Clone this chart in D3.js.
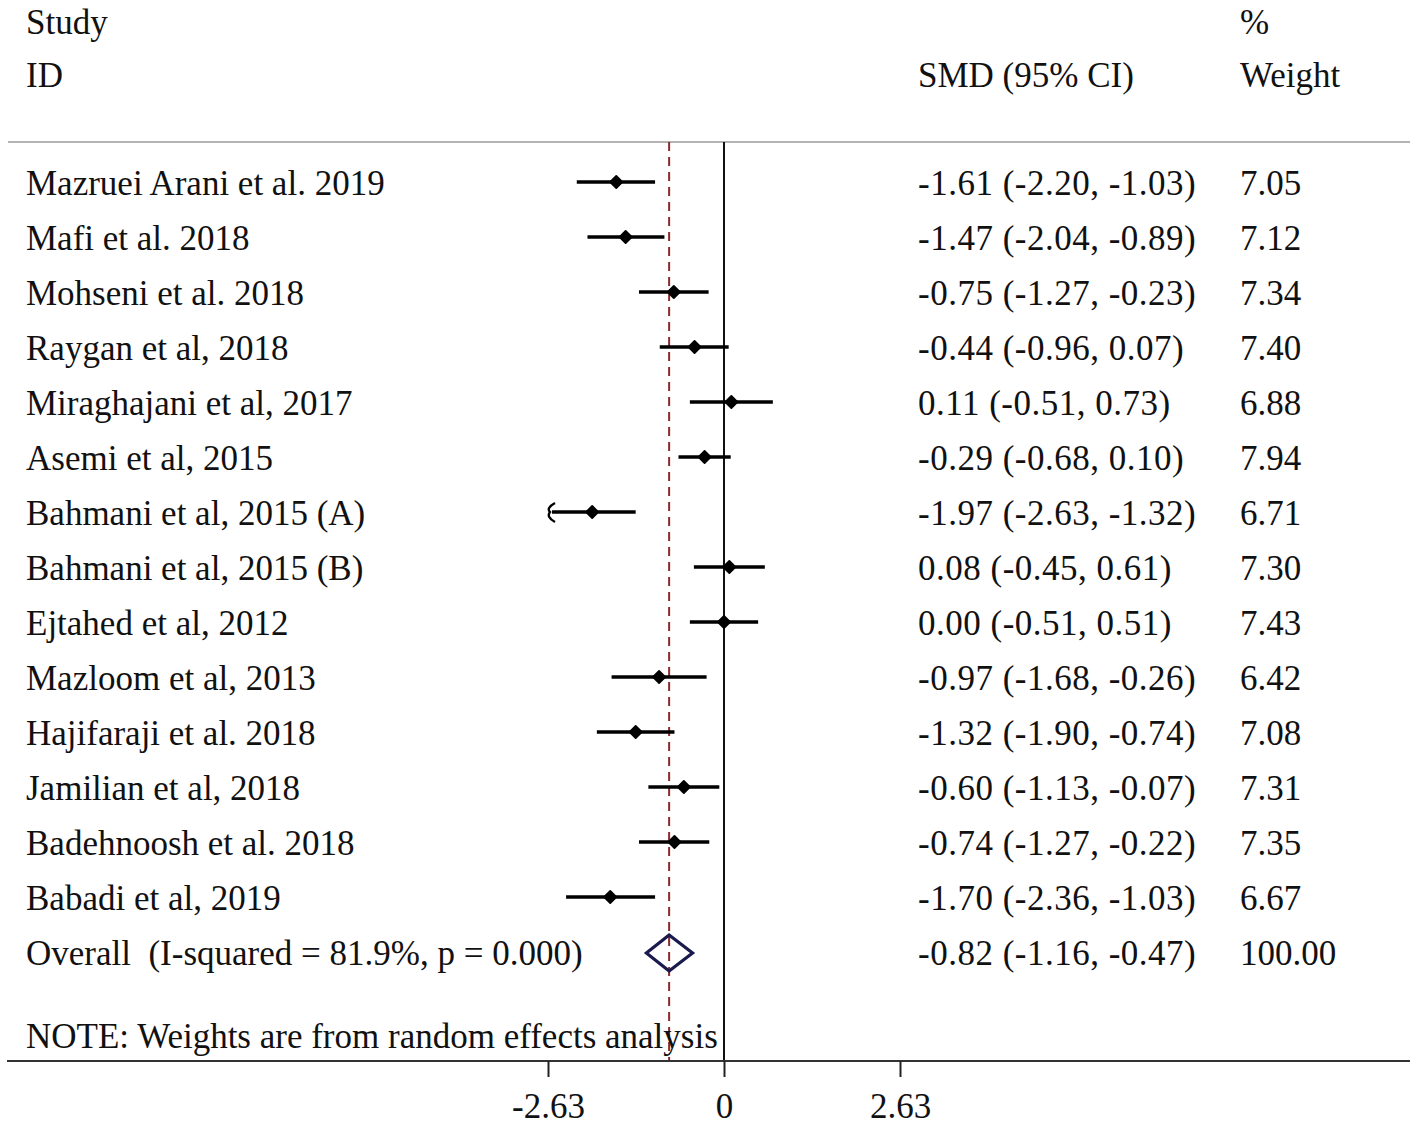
<!DOCTYPE html>
<html><head><meta charset="utf-8">
<script src="https://cdn.jsdelivr.net/npm/d3@7"></script>
<style>html,body{margin:0;padding:0;background:#fff;}svg{display:block;}</style>
</head><body>
<svg id="c" width="1418" height="1125"></svg>
<script>
const studies = ["Mazruei Arani et al. 2019","Mafi et al. 2018","Mohseni et al. 2018","Raygan et al, 2018","Miraghajani et al, 2017","Asemi et al, 2015","Bahmani et al, 2015 (A)","Bahmani et al, 2015 (B)","Ejtahed et al, 2012","Mazloom et al, 2013","Hajifaraji et al. 2018","Jamilian et al, 2018","Badehnoosh et al. 2018","Babadi et al, 2019"];
const smd   = [-1.61,-1.47,-0.75,-0.44,0.11,-0.29,-1.97,0.08,0.00,-0.97,-1.32,-0.60,-0.74,-1.70];
const lower = [-2.20,-2.04,-1.27,-0.96,-0.51,-0.68,-2.63,-0.45,-0.51,-1.68,-1.90,-1.13,-1.27,-2.36];
const upper = [-1.03,-0.89,-0.23,0.07,0.73,0.10,-1.32,0.61,0.51,-0.26,-0.74,-0.07,-0.22,-1.03];
const weights = ["7.05","7.12","7.34","7.40","6.88","7.94","6.71","7.30","7.43","6.42","7.08","7.31","7.35","6.67"];
const ciText = ["-1.61 (-2.20, -1.03)","-1.47 (-2.04, -0.89)","-0.75 (-1.27, -0.23)","-0.44 (-0.96, 0.07)","0.11 (-0.51, 0.73)","-0.29 (-0.68, 0.10)","-1.97 (-2.63, -1.32)","0.08 (-0.45, 0.61)","0.00 (-0.51, 0.51)","-0.97 (-1.68, -0.26)","-1.32 (-1.90, -0.74)","-0.60 (-1.13, -0.07)","-0.74 (-1.27, -0.22)","-1.70 (-2.36, -1.03)"];
const overall = {label:"Overall  (I-squared = 81.9%, p = 0.000)", est:-0.82, lo:-1.16, hi:-0.47, ci:"-0.82 (-1.16, -0.47)", w:"100.00"};
const ticks = [-2.63, 0, 2.63];
const tickLabels = ["-2.63","0","2.63"];
const clipMin = -2.63;

const svg = d3.select("#c");
const font = "'Liberation Serif','Times New Roman',serif";
const fs = 35;
const x = d3.scaleLinear().domain([-2.63, 2.63]).range([548, 900]);
const y = d3.scalePoint().domain(d3.range(studies.length + 1)).range([183, 953]);

const topY = 142, botY = 1061;

svg.append("line").attr("x1",8).attr("x2",1410).attr("y1",topY).attr("y2",topY)
  .attr("stroke","#9a9a9a").attr("stroke-width",1.6);

function txt(t, xx, yy, ls){
  return svg.append("text").attr("x",xx).attr("y",yy).attr("dy","0.33em")
    .attr("font-family",font).attr("font-size",fs).attr("fill","#111")
    .attr("letter-spacing", ls || 0)
    .style("white-space","pre").text(t);
}
txt("Study",26,22);
txt("ID",26,75);
txt("SMD (95% CI)",918,75);
txt("%",1240,22);
txt("Weight",1240,75);

svg.append("line").attr("x1",x(0)).attr("x2",x(0)).attr("y1",topY).attr("y2",botY)
  .attr("stroke","#111").attr("stroke-width",2);
svg.append("line").attr("x1",x(overall.est)).attr("x2",x(overall.est)).attr("y1",topY).attr("y2",botY)
  .attr("stroke","#8b2a2e").attr("stroke-width",2).attr("stroke-dasharray","9,6");

studies.forEach((s,i)=>{
  const yy = y(i);
  txt(s,26,yy);
  txt(ciText[i],918,yy,0.5);
  txt(weights[i],1240,yy);
  const lx = lower[i] <= clipMin ? x(clipMin)+4 : x(lower[i]);
  svg.append("line").attr("x1",lx).attr("x2",x(upper[i])).attr("y1",yy-1).attr("y2",yy-1)
    .attr("stroke","#000").attr("stroke-width",3.4);
  if (lower[i] <= clipMin){
    const ax = x(clipMin)+4;
    svg.append("path").attr("d",`M${ax+3},${yy-10} Q${ax-6},${yy-5} ${ax-2},${yy-1} Q${ax-6},${yy+4} ${ax+3},${yy+9}`)
      .attr("fill","none").attr("stroke","#000").attr("stroke-width",2.4);
  }
  const cx = x(smd[i]), cy = yy-1, r = 6;
  svg.append("path").attr("d",`M${cx},${cy-r} L${cx+r},${cy} L${cx},${cy+r} L${cx-r},${cy} Z`)
    .attr("fill","#000").attr("stroke","#000").attr("stroke-width",1.8).attr("stroke-linejoin","round");
});

const oy = y(studies.length);
txt(overall.label,26,oy);
txt(overall.ci,918,oy,0.5);
txt(overall.w,1240,oy);
const dh = 18;
svg.append("path")
  .attr("d",`M${x(overall.lo)},${oy} L${x(overall.est)},${oy-dh} L${x(overall.hi)},${oy} L${x(overall.est)},${oy+dh} Z`)
  .attr("fill","none").attr("stroke","#1a1a4e").attr("stroke-width",3.2).attr("stroke-linejoin","miter");

txt("NOTE: Weights are from random effects analysis",26,1036);

svg.append("line").attr("x1",7).attr("x2",1410).attr("y1",botY).attr("y2",botY)
  .attr("stroke","#333").attr("stroke-width",2.2);
const axis = d3.axisBottom(x).tickValues(ticks).tickFormat((d,i)=>tickLabels[i]).tickSize(16).tickPadding(16);
const g = svg.append("g").attr("transform",`translate(0,${botY})`).call(axis);
g.select(".domain").remove();
g.selectAll(".tick line").attr("stroke","#222").attr("stroke-width",2);
g.selectAll(".tick text").attr("font-family",font).attr("font-size",fs).attr("fill","#111");
</script>
</body></html>
